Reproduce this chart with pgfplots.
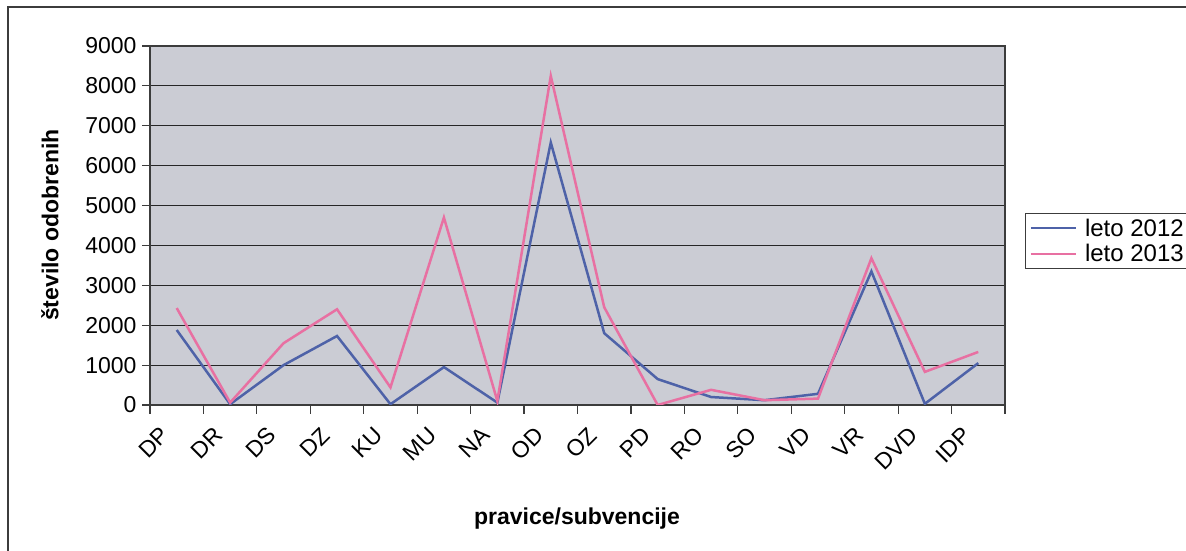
\documentclass[border=0pt]{standalone}
\usepackage{fontspec}
\setmainfont{Liberation Sans}
\usepackage{pgfplots}
\pgfplotsset{compat=1.18}

\definecolor{plotbg}{RGB}{203,204,212}
\definecolor{s2012}{RGB}{78,98,168}
\definecolor{s2013}{RGB}{232,112,162}
\definecolor{frame}{RGB}{60,60,60}

% categories sit at 0.5, 1.5, ... so that the tick marks fall between them
\pgfplotstableread{
x    y2012 y2013
0.5  1880  2430
1.5  20    60
2.5  1000  1550
3.5  1730  2400
4.5  20    440
5.5  950   4700
6.5  60    100
7.5  6580  8250
8.5  1800  2450
9.5  650   0
10.5 200   380
11.5 120   120
12.5 280   160
13.5 3350  3680
14.5 30    830
15.5 1050  1330
}\counts

\begin{document}
\begin{tikzpicture}[x=1pt,y=1pt]
\useasboundingbox (0,0) rectangle (1186,551);
\draw[frame, line width=1.2pt] (8,0) -- (8,544) -- (1186,544);

\begin{axis}[
    at={(150pt,146pt)}, anchor=south west,
    width=855pt, height=359pt, scale only axis,
    xmin=0, xmax=16, ymin=0, ymax=9000,
    axis background/.style={fill=plotbg},
    axis line style={frame, line width=1.2pt},
    xtick={0.5,1.5,...,15.5},
    xticklabels={DP,DR,DS,DZ,KU,MU,NA,OD,OZ,PD,RO,SO,VD,VR,DVD,IDP},
    minor xtick={0,1,...,16},
    major x tick style={draw=none},
    minor tick length=9pt,
    xtick pos=bottom, xtick align=outside,
    ytick={0,1000,...,9000},
    ytick pos=left, ytick align=outside,
    major tick length=8pt,
    tick style={frame, line width=1.2pt},
    ymajorgrids, grid style={black!85, line width=1.1pt},
    /pgf/number format/assume math mode=true,
    /pgf/number format/1000 sep={},
    yticklabel style={font=\fontsize{23}{27}\selectfont, xshift=-2pt},
    xticklabel style={font=\fontsize{23}{27}\selectfont, xshift=-9pt, yshift=-16pt, rotate=45, anchor=east},
    legend style={at={(1.0234,0.379)}, anchor=south west, draw=frame, line width=1pt,
        fill=white, font=\fontsize{24}{28}\selectfont, row sep=3pt,
        inner xsep=4pt, inner ysep=3pt, nodes={inner sep=2pt}},
    legend cell align=left,
    legend image code/.code={\draw[#1] (0pt,0pt) -- (45pt,0pt);},
    legend style={/tikz/every odd column/.append style={column sep=6pt}},
]
\addplot[s2012, line width=2.5pt] table[x=x, y=y2012] {\counts};
\addplot[s2013, line width=2.5pt] table[x=x, y=y2013] {\counts};
\legend{leto 2012, leto 2013}
\end{axis}

\node[rotate=90, font=\bfseries\fontsize{23}{27}\selectfont] at (50,326) {število odobrenih};
\node[font=\bfseries\fontsize{23}{27}\selectfont] at (577,32) {pravice/subvencije};
\end{tikzpicture}
\end{document}
